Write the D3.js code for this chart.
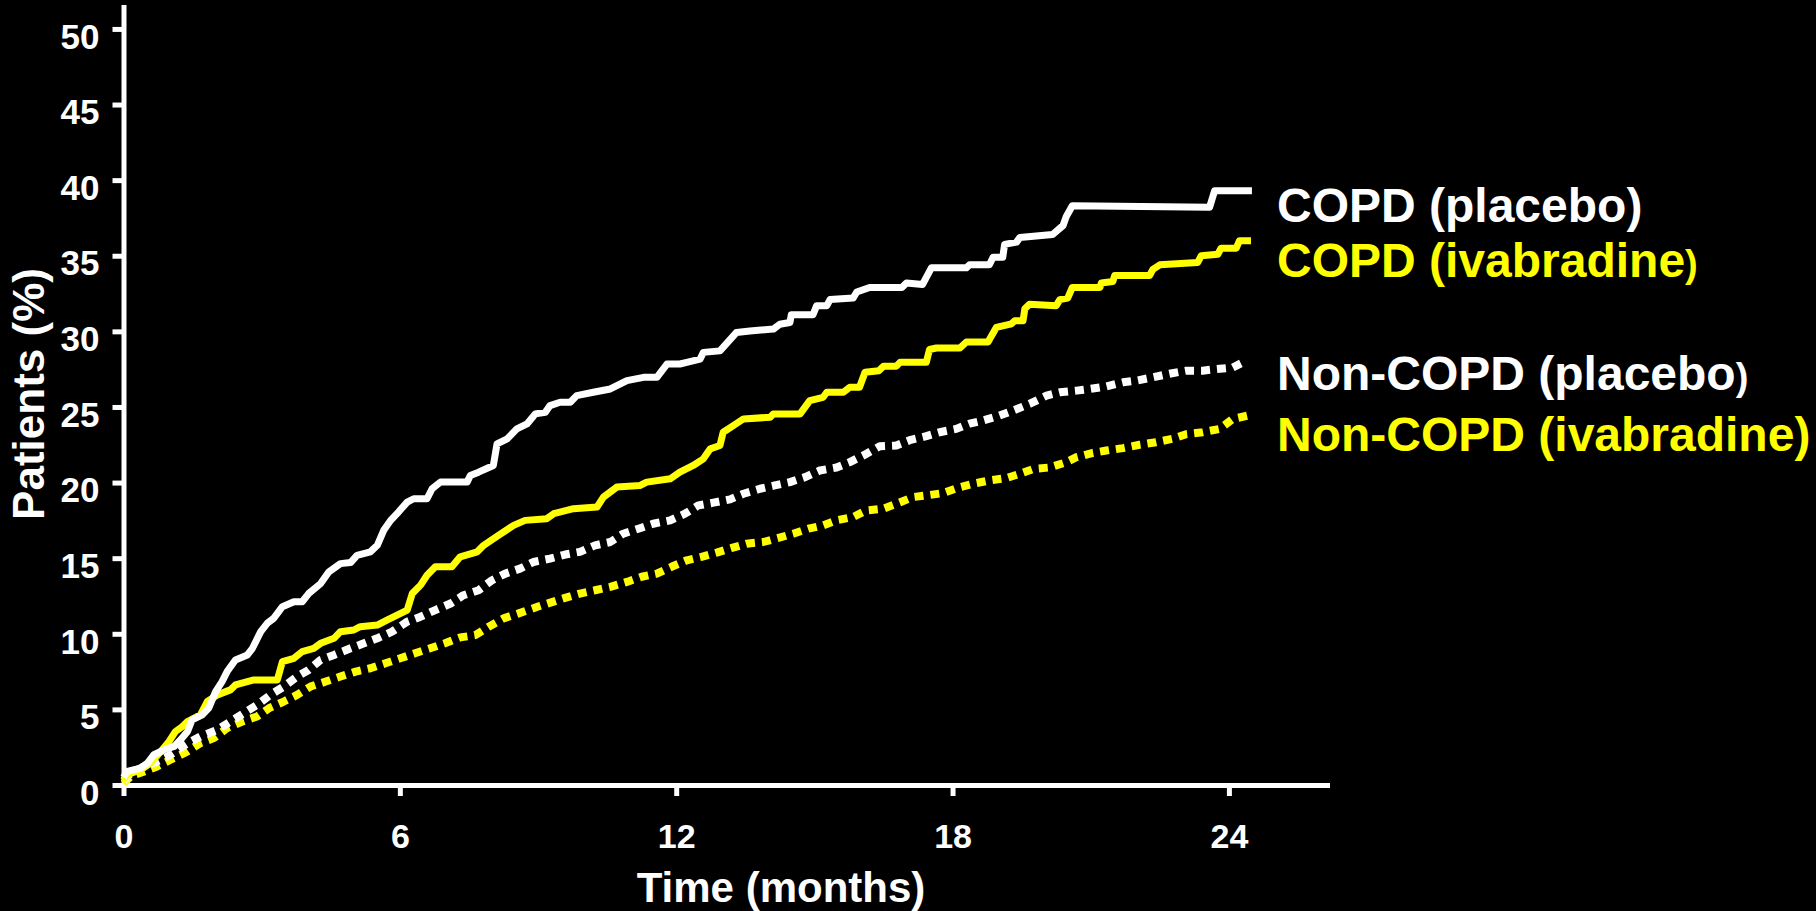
<!DOCTYPE html>
<html>
<head>
<meta charset="utf-8">
<script src="https://cdn.jsdelivr.net/npm/d3@7"></script>
<style>
  html, body { margin: 0; padding: 0; background: #000; }
  svg { display: block; }
  text { font-family: "Liberation Sans", Arial, sans-serif; font-weight: bold; }
</style>
</head>
<body>
<svg id="chart" width="1816" height="911"></svg>
<script>
// Cumulative incidence (%) against time (months): [month, percent]
const copdPlacebo = [
  [0,0.5],[0.08,0.9],[0.37,1.12],[0.52,1.45],[0.66,2.0],[0.88,2.33],[1.10,2.55],[1.24,2.99],
  [1.39,3.54],[1.49,4.31],[1.71,4.64],[1.85,5.08],[2.0,6.18],[2.14,6.84],[2.25,7.5],[2.43,8.27],
  [2.69,8.6],[2.8,9.04],[2.98,10.14],[3.12,10.69],[3.26,11.02],[3.45,11.79],[3.7,12.12],[3.88,12.12],
  [4.02,12.66],[4.28,13.32],[4.46,14.1],[4.71,14.64],[4.93,14.71],[5.07,15.19],[5.36,15.42],[5.51,15.85],
  [5.65,16.84],[5.8,17.5],[5.97,18.05],[6.16,18.71],[6.3,18.93],[6.59,18.93],[6.7,19.59],[6.88,20.03],
  [7.46,20.03],[7.53,20.47],[7.71,20.69],[8.03,21.13],[8.11,22.56],[8.33,22.89],[8.54,23.55],[8.76,23.88],
  [8.94,24.54],[9.16,24.65],[9.26,25.09],[9.48,25.31],[9.7,25.31],[9.84,25.75],[10.2,25.97],[10.57,26.19],
  [10.93,26.74],[11.29,26.96],[11.58,26.96],[11.8,27.84],[12.08,27.84],[12.23,27.95],[12.52,28.17],[12.59,28.61],
  [12.95,28.71],[13.31,29.93],[13.6,30.03],[14.11,30.15],[14.25,30.47],[14.47,30.59],[14.5,31.1],[14.97,31.1],
  [15.05,31.7],[15.27,31.7],[15.34,32.1],[15.84,32.2],[15.92,32.6],[16.2,32.9],[16.9,32.9],[17.0,33.2],
  [17.35,33.1],[17.54,34.2],[18.3,34.2],[18.37,34.4],[18.8,34.4],[18.88,34.9],[19.09,34.9],[19.13,35.75],
  [19.39,35.9],[19.46,36.2],[20.17,36.4],[20.4,37.0],[20.47,37.6],[20.6,38.3],[23.58,38.2],[23.69,39.3],
  [24.5,39.3]
];

const copdIvabradine = [
  [0,0.3],[0.08,0.68],[0.37,1.01],[0.59,1.45],[0.81,2.22],[0.99,2.88],[1.13,3.54],[1.28,3.87],
  [1.39,4.2],[1.67,4.64],[1.82,5.52],[2.04,5.96],[2.32,6.29],[2.43,6.62],[2.69,6.84],[2.83,6.95],
  [3.34,6.95],[3.45,8.16],[3.7,8.38],[3.88,8.82],[4.13,9.04],[4.28,9.37],[4.57,9.7],[4.71,10.14],
  [5.0,10.25],[5.14,10.47],[5.51,10.58],[5.72,10.91],[5.94,11.24],[6.16,11.57],[6.27,12.66],[6.45,13.22],
  [6.59,13.87],[6.77,14.43],[7.13,14.43],[7.31,15.09],[7.68,15.42],[7.82,15.85],[8.14,16.51],[8.47,17.17],
  [8.72,17.5],[9.19,17.61],[9.34,17.94],[9.77,18.27],[10.28,18.38],[10.42,19.04],[10.71,19.7],[11.22,19.81],
  [11.36,20.03],[11.87,20.25],[12.08,20.69],[12.37,21.13],[12.59,21.57],[12.74,22.23],[12.95,22.45],[13.02,23.33],
  [13.24,23.77],[13.46,24.21],[14.04,24.32],[14.11,24.54],[14.69,24.54],[14.9,25.42],[15.19,25.64],[15.27,25.97],
  [15.63,25.97],[15.77,26.3],[15.98,26.3],[16.1,27.3],[16.4,27.4],[16.5,27.7],[16.78,27.7],[16.86,27.95],
  [17.43,27.95],[17.5,28.8],[17.65,28.9],[18.16,28.9],[18.3,29.3],[18.77,29.3],[18.95,30.26],[19.28,30.5],
  [19.35,30.7],[19.53,30.7],[19.57,31.5],[19.67,31.8],[20.25,31.7],[20.33,32.1],[20.5,32.2],[20.6,32.9],
  [21.2,32.9],[21.23,33.2],[21.48,33.3],[21.52,33.7],[22.28,33.7],[22.35,34.1],[22.5,34.4],[23.32,34.55],
  [23.4,35.0],[23.76,35.1],[23.83,35.5],[24.16,35.5],[24.23,36.0],[24.48,36.0]
];

const nonCopdPlacebo = [
  [0,0.3],[0.16,0.79],[0.45,1.23],[0.73,1.56],[1.02,2.0],[1.39,2.77],[1.67,3.21],[2.04,3.65],
  [2.32,4.2],[2.61,4.75],[2.9,5.3],[3.19,5.96],[3.48,6.51],[3.77,7.17],[4.02,7.61],[4.28,8.27],
  [4.57,8.6],[4.93,9.04],[5.22,9.37],[5.54,9.74],[5.83,10.14],[6.16,10.8],[6.45,11.13],[6.77,11.57],
  [7.1,12.0],[7.38,12.55],[7.71,12.88],[8.0,13.54],[8.29,13.98],[8.61,14.31],[8.9,14.75],[9.26,14.97],
  [9.59,15.24],[9.91,15.42],[10.24,15.85],[10.57,16.07],[10.85,16.62],[11.18,16.95],[11.5,17.28],[11.87,17.5],
  [12.19,17.94],[12.48,18.49],[12.81,18.67],[13.17,18.89],[13.46,19.26],[13.82,19.59],[14.14,19.81],[14.47,20.03],
  [14.8,20.36],[15.12,20.8],[15.48,21.0],[15.77,21.35],[16.13,21.9],[16.42,22.4],[16.78,22.45],[17.07,22.8],
  [17.43,23.07],[17.72,23.33],[18.08,23.55],[18.37,23.9],[18.66,24.1],[19.02,24.43],[19.31,24.76],[19.67,25.2],
  [20.04,25.75],[20.33,25.97],[20.69,26.08],[20.98,26.19],[21.34,26.36],[21.7,26.63],[21.99,26.74],[22.35,26.96],
  [22.71,27.2],[23.07,27.4],[23.43,27.4],[23.72,27.5],[24.08,27.6],[24.37,28.05]
];

const nonCopdIvabradine = [
  [0,0.1],[0.16,0.57],[0.45,0.9],[0.73,1.23],[1.02,1.67],[1.39,2.22],[1.67,2.77],[1.96,3.1],
  [2.25,3.76],[2.58,4.2],[2.9,4.53],[3.16,5.08],[3.48,5.52],[3.77,5.96],[4.06,6.51],[4.39,6.84],
  [4.71,7.17],[5.04,7.5],[5.36,7.72],[5.69,8.05],[6.01,8.38],[6.33,8.71],[6.66,9.04],[6.98,9.37],
  [7.31,9.76],[7.64,9.91],[7.93,10.47],[8.25,11.02],[8.58,11.35],[9.0,11.8],[9.55,12.34],[9.91,12.66],
  [10.24,12.88],[10.57,13.1],[10.93,13.43],[11.25,13.77],[11.58,13.98],[11.9,14.43],[12.23,14.86],[12.55,15.09],
  [12.88,15.37],[13.21,15.68],[13.53,15.96],[13.89,16.07],[14.22,16.34],[14.54,16.62],[14.87,16.95],[15.19,17.17],
  [15.48,17.5],[15.84,17.72],[16.13,18.16],[16.49,18.27],[16.78,18.6],[17.14,19.04],[17.43,19.15],[17.79,19.3],
  [18.16,19.7],[18.44,19.92],[18.8,20.14],[19.17,20.3],[19.46,20.58],[19.75,20.9],[20.11,21.0],[20.47,21.35],
  [20.69,21.68],[21.05,21.97],[21.34,22.12],[21.7,22.28],[22.06,22.5],[22.42,22.67],[22.78,22.9],[23.07,23.2],
  [23.43,23.33],[23.8,23.55],[24.08,24.2],[24.41,24.43]
];

const xTicks = [0, 6, 12, 18, 24];
const yTicks = [0, 5, 10, 15, 20, 25, 30, 35, 40, 45, 50];
const xTitle = "Time (months)";
const yTitle = "Patients (%)";

// Legend entries; the closing bracket of some labels is set slightly smaller
const legendLabels = [
  { main: "COPD (placebo)", tail: "" },
  { main: "COPD (ivabradine", tail: ")" },
  { main: "Non-COPD (placebo", tail: ")" },
  { main: "Non-COPD (ivabradine)", tail: "" }
];

const WHITE = "#ffffff", YELLOW = "#ffff00";

const svg = d3.select("#chart");
svg.append("rect").attr("width", 1816).attr("height", 911).attr("fill", "#000");

const x = d3.scaleLinear().domain([0, 26.13]).range([123.5, 1327]);
const y = d3.scaleLinear().domain([0, 51.45]).range([785, 7]);

// Axes
const xAxis = d3.axisBottom(x).tickValues(xTicks).tickSizeInner(11).tickSizeOuter(0).tickPadding(28);
const yAxis = d3.axisLeft(y).tickValues(yTicks).tickSizeInner(11).tickSizeOuter(0).tickPadding(13);

const gx = svg.append("g").attr("transform", `translate(0,${y(0)})`).call(xAxis);
const gy = svg.append("g").attr("transform", `translate(${x(0)},0)`).call(yAxis);

[gx, gy].forEach(g => {
  g.select(".domain").attr("stroke", WHITE).attr("stroke-width", 5).attr("stroke-linecap", "square");
  g.selectAll(".tick line").attr("stroke", WHITE).attr("stroke-width", 5);
  g.selectAll(".tick text").attr("fill", WHITE)
    .style("font-family", '"Liberation Sans", Arial, sans-serif')
    .style("font-weight", "bold");
});
gx.selectAll(".tick text").style("font-size", "34px");
// value labels on the vertical axis sit a little below their ticks
gy.selectAll(".tick text").style("font-size", "35px").attr("dy", "0.55em");

// Axis titles
svg.append("text")
  .attr("x", 781).attr("y", 902)
  .attr("text-anchor", "middle")
  .attr("fill", WHITE).style("font-size", "42px")
  .text(xTitle);

svg.append("text")
  .attr("transform", "translate(44,394) rotate(-90)")
  .attr("text-anchor", "middle")
  .attr("fill", WHITE).style("font-size", "44px")
  .text(yTitle);

// Curves
const line = d3.line().x(d => x(d[0])).y(d => y(d[1]));

const series = [
  { data: nonCopdIvabradine, color: YELLOW, dotted: true },
  { data: nonCopdPlacebo, color: WHITE, dotted: true },
  { data: copdIvabradine, color: YELLOW, dotted: false },
  { data: copdPlacebo, color: WHITE, dotted: false }
];

svg.append("g").selectAll("path").data(series).join("path")
  .attr("d", d => line(d.data))
  .attr("fill", "none")
  .attr("stroke", d => d.color)
  .attr("stroke-width", d => d.dotted ? 8 : 7)
  .attr("stroke-dasharray", d => d.dotted ? "9,7" : null)
  .attr("stroke-linejoin", "round")
  .attr("stroke-linecap", "butt");

// Legend
const legendColors = [WHITE, YELLOW, WHITE, YELLOW];
const legendBaselines = [222, 277, 390, 451];
legendLabels.forEach((lab, i) => {
  const t = svg.append("text")
    .attr("x", 1277).attr("y", legendBaselines[i])
    .attr("fill", legendColors[i]).style("font-size", "48px");
  t.append("tspan").text(lab.main);
  if (lab.tail) t.append("tspan").style("font-size", "38px").text(lab.tail);
});
</script>
</body>
</html>
